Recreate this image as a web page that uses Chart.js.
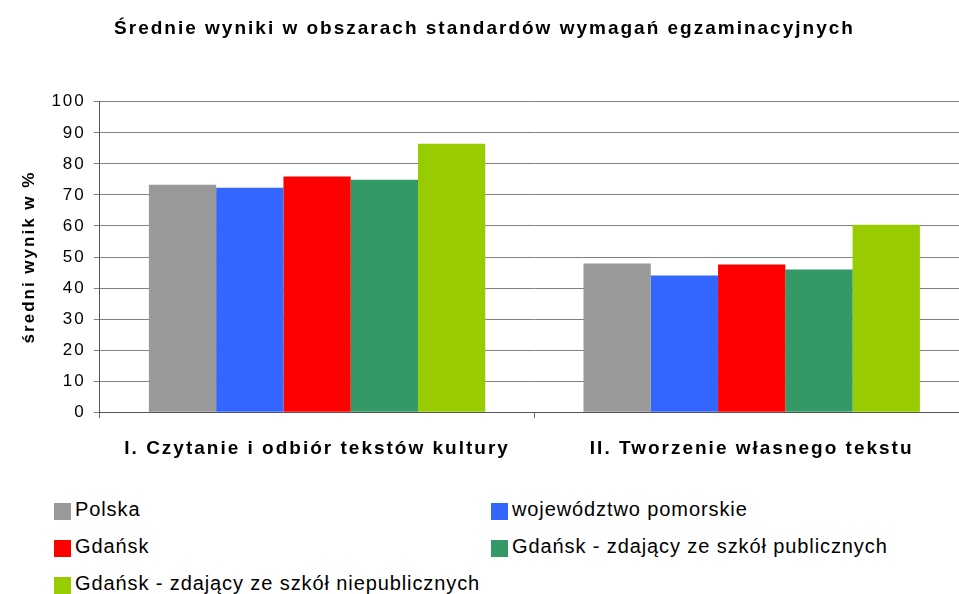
<!DOCTYPE html>
<html lang="pl">
<head>
<meta charset="utf-8">
<script src="https://cdn.jsdelivr.net/npm/chart.js@4/dist/chart.umd.min.js"></script>
<style>
  html, body { margin: 0; padding: 0; background: #fff; overflow: hidden; width: 959px; height: 594px; }
  #wrap { position: absolute; left: 0; top: 0; width: 975px; height: 480px; }
  .leg { position: absolute; font-family: "Liberation Sans", Arial, sans-serif; font-size: 20px;
         line-height: 20px; letter-spacing: 0.9px; color: #000; white-space: nowrap; }
  .leg .sw { position: absolute; left: 0; top: 4px; width: 17px; height: 17px; }
  .leg .tx { position: absolute; left: 21px; top: 0; }
</style>
</head>
<body>
<div id="wrap"><canvas id="chart" width="975" height="480"></canvas></div>
<div id="legend"></div>
<script>
// Data
const categories = ["I. Czytanie i odbiór tekstów kultury", "II. Tworzenie własnego tekstu"];
const seriesNames = [
  "Polska",
  "województwo pomorskie",
  "Gdańsk",
  "Gdańsk - zdający ze szkół publicznych",
  "Gdańsk - zdający ze szkół niepublicznych",
];
const polska = [73.3, 47.9];
const pomorskie = [72.3, 44.0];
const gdansk = [75.9, 47.6];
const gdanskPubliczne = [74.9, 46.0];
const gdanskNiepubliczne = [86.5, 60.4];
const yTicks = [0, 10, 20, 30, 40, 50, 60, 70, 80, 90, 100];

const colors = ["#999999", "#3366FF", "#FF0000", "#339966", "#99CC00"];
const seriesValues = [polska, pomorskie, gdansk, gdanskPubliczne, gdanskNiepubliczne];

Chart.defaults.font.family = "'Liberation Sans', Arial, sans-serif";
Chart.defaults.color = "#000";

// the original text is drawn with wide letter spacing
const spacingPlugin = {
  id: "spacing",
  beforeUpdate(chart) { chart.ctx.letterSpacing = "2px"; },
  beforeDraw(chart) { chart.ctx.letterSpacing = "2px"; },
};

const chart = new Chart(document.getElementById("chart").getContext("2d"), {
  type: "bar",
  data: {
    labels: categories,
    datasets: seriesNames.map((name, i) => ({
      label: name,
      data: seriesValues[i],
      backgroundColor: colors[i],
      borderWidth: 0,
      barPercentage: 1,
      categoryPercentage: 0.774,
    })),
  },
  options: {
    responsive: false,
    animation: false,
    layout: { padding: { left: 0, right: 6, top: 0, bottom: 1 } },
    plugins: {
      legend: { display: false },
      tooltip: { enabled: false },
      title: {
        display: true,
        text: "Średnie wyniki w obszarach standardów wymagań egzaminacyjnych",
        font: { size: 19, weight: "bold" },
        color: "#000",
        padding: { top: 17, bottom: 62 },
      },
    },
    scales: {
      x: {
        grid: { drawOnChartArea: false, drawTicks: true, tickLength: 6, color: "#666", offset: true },
        border: { color: "#555" },
        ticks: { font: { size: 19, weight: "bold" }, padding: 19, maxRotation: 0 },
      },
      y: {
        min: 0,
        max: 100,
        afterBuildTicks(scale) { scale.ticks = yTicks.map((v) => ({ value: v })); },
        grid: { color: "#808080", tickLength: 6 },
        border: { color: "#555" },
        ticks: { font: { size: 17 }, padding: 8 },
        title: {
          display: true,
          text: "średni wynik w %",
          font: { size: 17, weight: "bold" },
          padding: { top: 19, bottom: 4 },
        },
      },
    },
  },
  plugins: [spacingPlugin],
});

// Two-column legend under the chart
const legendPos = [
  [54, 499], [491, 499],
  [54, 536], [491, 536],
  [54, 573],
];
const legendEl = document.getElementById("legend");
seriesNames.forEach((name, i) => {
  const item = document.createElement("div");
  item.className = "leg";
  item.style.left = legendPos[i][0] + "px";
  item.style.top = legendPos[i][1] + "px";
  item.innerHTML = `<span class="sw" style="background:${colors[i]}"></span><span class="tx">${name}</span>`;
  legendEl.appendChild(item);
});
</script>
</body>
</html>
